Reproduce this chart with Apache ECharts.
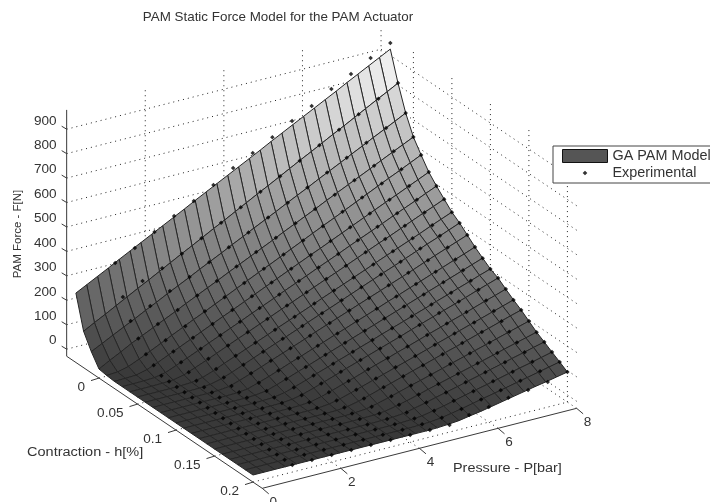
<!DOCTYPE html>
<html><head><meta charset="utf-8">
<style>html,body{margin:0;padding:0;background:#fff}#c{width:710px;height:502px}</style>
<script src="https://cdn.jsdelivr.net/npm/echarts@6/dist/echarts.min.js"></script>
</head><body><div id="c"></div>
<script>
const contraction=[-0.03,-0.02,-0.01,0,0.01,0.02,0.03,0.04,0.05,0.06,0.07,0.08,0.09,0.10,0.11,0.12,0.13,0.14,0.15,0.16,0.17,0.18,0.19,0.20];
const pressureModelStep=8/29;
const pressureDots=[1,1.5,2,2.5,3,3.5,4,4.5,5,5.5,6,6.5,7,7.5,8];
const modelForce=[
[255,278,301,324,348,371,394,417,440,463,486,510,533,556,579,602,625,648,672,695,718,741,764,787,810,834,857,880,903,926],
[120,144,167,191,215,239,262,286,310,334,357,381,405,428,452,476,500,523,547,571,595,618,642,666,689,713,737,761,784,808],
[58,80,103,125,147,170,192,215,237,259,282,304,326,349,371,394,416,438,461,483,505,528,550,572,595,617,640,662,684,707],
[8,32,55,79,100,121,142,163,185,206,227,248,270,291,312,333,354,376,397,418,439,461,482,503,524,545,567,588,609,630],
[3,6,17,36,57,78,99,120,141,161,182,203,224,245,266,286,307,328,349,370,391,411,432,453,474,495,516,536,557,578],
[0,1,3,14,32,52,72,92,112,132,152,171,191,211,231,251,271,291,311,330,350,370,390,410,430,450,469,489,509,529],
[0,0,1,3,12,30,49,68,88,107,126,145,165,184,203,223,242,261,281,300,319,339,358,377,396,416,435,454,474,493],
[0,0,0,1,3,13,30,48,67,86,105,123,142,161,180,198,217,236,255,273,292,311,330,349,367,386,405,424,442,461],
[0,0,0,0,1,3,12,28,47,65,83,101,119,138,156,174,192,211,229,247,265,283,302,320,338,356,374,393,411,429],
[0,0,0,0,0,1,5,16,32,50,68,86,104,121,139,157,175,192,210,228,246,264,282,299,317,335,353,370,388,406],
[0,0,0,0,0,0,1,6,20,36,53,70,87,104,121,139,156,173,190,207,224,241,258,275,292,310,327,344,361,378],
[0,0,0,0,0,0,0,1,6,20,35,52,69,85,102,118,135,151,168,184,201,218,234,251,267,284,300,317,333,350],
[0,0,0,0,0,0,0,0,2,8,22,38,54,70,86,102,118,134,150,166,182,198,214,230,246,262,278,294,310,326],
[0,0,0,0,0,0,0,0,1,3,11,25,40,56,71,87,102,118,133,149,164,179,195,210,226,241,257,272,288,303],
[0,0,0,0,0,0,0,0,0,1,5,15,29,44,59,75,90,105,120,135,150,166,181,196,211,226,241,257,272,287],
[0,0,0,0,0,0,0,0,0,0,1,5,15,29,44,58,73,88,102,117,131,146,161,175,190,204,219,234,248,263],
[0,0,0,0,0,0,0,0,0,0,0,1,6,16,29,43,57,71,85,99,113,127,142,156,170,184,198,212,226,240],
[0,0,0,0,0,0,0,0,0,0,0,0,1,6,16,29,43,56,70,84,97,111,125,138,152,166,179,193,207,220],
[0,0,0,0,0,0,0,0,0,0,0,0,0,2,6,16,28,41,54,66,79,92,105,118,131,144,157,170,183,196],
[0,0,0,0,0,0,0,0,0,0,0,0,0,1,2,6,15,26,38,51,63,75,87,99,111,123,136,148,160,172],
[0,0,0,0,0,0,0,0,0,0,0,0,0,0,1,3,7,17,27,39,50,61,73,84,96,107,119,130,142,153],
[0,0,0,0,0,0,0,0,0,0,0,0,0,0,0,1,3,7,16,25,36,47,58,68,79,90,101,111,122,133],
[0,0,0,0,0,0,0,0,0,0,0,0,0,0,0,0,1,3,8,16,25,35,45,54,64,74,84,94,104,114],
[0,0,0,0,0,0,0,0,0,0,0,0,0,0,0,0,0,1,4,8,16,23,32,41,50,59,68,76,85,94]];
const experimentalForce=[
[337,378,423,468,509,554,603,644,688,734,775,824,865,910,951],
[219,264,296,335,378,421,464,507,550,593,636,679,722,765,808],
[142,183,224,261,301,342,382,423,463,504,545,585,626,666,707],
[92,131,168,207,246,284,323,361,400,438,476,515,553,592,630],
[49,86,123,163,200,238,276,314,351,389,427,465,502,540,578],
[25,61,97,133,169,205,241,277,313,349,385,421,457,493,529],
[3,38,73,108,143,178,213,248,283,318,353,388,423,458,493],
[1,19,53,87,121,155,189,223,257,291,325,359,393,427,461],
[0,5,33,66,99,132,165,198,231,264,297,330,363,396,429],
[0,0,19,51,84,116,148,180,213,245,277,309,342,374,406],
[0,0,6,37,68,99,130,161,192,223,254,285,316,347,378],
[0,0,1,20,50,80,110,140,170,200,230,260,290,320,350],
[0,0,0,7,36,65,94,123,152,181,210,239,268,297,326],
[0,0,0,2,23,51,79,107,135,163,191,219,247,275,303],
[0,0,0,1,12,40,67,95,122,150,177,205,232,260,287],
[0,0,0,0,5,25,51,78,104,131,157,184,210,237,263],
[0,0,0,0,2,13,36,62,87,113,138,164,189,215,240],
[0,0,0,0,1,5,22,47,72,96,121,146,171,195,220],
[0,0,0,0,0,2,9,32,55,79,102,126,149,173,196],
[0,0,0,0,0,1,3,18,40,62,84,106,128,150,172],
[0,0,0,0,0,0,2,8,28,49,70,91,111,132,153],
[0,0,0,0,0,0,1,4,16,36,55,75,94,114,133],
[0,0,0,0,0,0,0,2,8,24,42,60,78,96,114],
[0,0,0,0,0,0,0,0,0,20,33,50,61,74,94]];
const forceTicks=[0,100,200,300,400,500,600,700,800,900];
const contractionTicks=[0,0.05,0.1,0.15,0.2];
const pressureTicks=[0,2,4,6,8];
const titleText='PAM Static Force Model for the PAM Actuator';
const forceName='PAM Force - F[N]', contractionName='Contraction - h[%]', pressureName='Pressure - P[bar]';
const modelName='GA PAM Model', dotsName='Experimental';

const FONT='"Liberation Sans", Arial, sans-serif';
const hLo=-0.042,hHi=0.212,pLo=0,pHi=8,zLo=-29,zHi=979;
const project=(h,p,z)=>[99+770*h+39.3*p, 371+520*h-10*p-0.2444*z];
const pAt=j=>j*pressureModelStep;
const grayOf=z=>{const v=Math.round(Math.min(240,57+190*Math.max(0,z)/900));return `rgb(${v},${v},${v})`;};

const faces=[];
for(let i=0;i<contraction.length-1;i++)for(let j=modelForce[0].length-2;j>=0;j--)faces.push([i,j]);
const dots=[];
experimentalForce.forEach((row,i)=>row.forEach((z,k)=>dots.push(project(contraction[i],pressureDots[k],z))));

const dotted=[];
forceTicks.forEach(z=>{dotted.push([hLo,pLo,z,hLo,pHi,z]);dotted.push([hLo,pHi,z,hHi,pHi,z]);});
pressureTicks.filter(p=>p>0).forEach(p=>{dotted.push([hLo,p,zLo,hLo,p,zHi]);dotted.push([hLo,p,zLo,hHi,p,zLo]);});
contractionTicks.forEach(h=>{dotted.push([h,pHi,zLo,h,pHi,zHi]);dotted.push([h,pLo,zLo,h,pHi,zLo]);});

const solid=[[hLo,pLo,zLo,hLo,pLo,zHi],[hLo,pLo,zLo,hHi,pLo,zLo],[hHi,pLo,zLo,hHi,pHi,zLo]];

function seg3(params,api){
  const d=dotted[params.dataIndex];
  const a=api.coord(project(d[0],d[1],d[2])),b=api.coord(project(d[3],d[4],d[5]));
  return {type:'line',shape:{x1:a[0],y1:a[1],x2:b[0],y2:b[1]},style:{stroke:'#222',lineWidth:1,lineDash:[1,4],fill:null}};
}
function axisItem(params,api){
  const d=solid[params.dataIndex];
  const a=api.coord(project(d[0],d[1],d[2])),b=api.coord(project(d[3],d[4],d[5]));
  return {type:'line',shape:{x1:a[0],y1:a[1],x2:b[0],y2:b[1]},style:{stroke:'#3a3a3a',lineWidth:1,fill:null}};
}
const tickItems=[];
forceTicks.forEach(z=>tickItems.push({at:[hLo,pLo,z],d:[-5,-3],t:[-10,-8],align:'right',label:String(z)}));
contractionTicks.forEach(h=>tickItems.push({at:[h,pLo,zLo],d:[-8,2.5],t:[-14,10],align:'right',label:String(h)}));
pressureTicks.forEach(p=>tickItems.push({at:[hHi,p,zLo],d:[6.5,5.5],t:[11,14],align:'center',label:String(p)}));
function tickRender(params,api){
  const k=tickItems[params.dataIndex];
  const a=api.coord(project(k.at[0],k.at[1],k.at[2]));
  return {type:'group',children:[
    {type:'line',shape:{x1:a[0],y1:a[1],x2:a[0]+k.d[0],y2:a[1]+k.d[1]},style:{stroke:'#3a3a3a',lineWidth:1,fill:null}},
    {type:'text',x:a[0]+k.t[0],y:a[1]+k.t[1],scaleX:1.13,style:{x:0,y:0,text:k.label,textAlign:k.align,textVerticalAlign:'middle',fill:'#333',font:'12px '+FONT}}
  ]};
}
function faceRender(params,api){
  const [i,j]=faces[params.dataIndex];
  const h0=contraction[i],h1=contraction[i+1],p0=pAt(j),p1=pAt(j+1);
  const z00=modelForce[i][j],z01=modelForce[i][j+1],z10=modelForce[i+1][j],z11=modelForce[i+1][j+1];
  const pts=[project(h0,p0,z00),project(h0,p1,z01),project(h1,p1,z11),project(h1,p0,z10)].map(q=>api.coord(q));
  return {type:'polygon',shape:{points:pts},style:{fill:grayOf((z00+z01+z10+z11)/4),stroke:'#262626',lineWidth:1}};
}
const keyOf=a=>a.map((_,i)=>[i,i]);
const silentCustom=(renderItem,data,z)=>({type:'custom',silent:true,coordinateSystem:'cartesian2d',renderItem,data,z,clip:false,animation:false});

const chart=echarts.init(document.getElementById('c'),null,{renderer:'canvas',width:710,height:502});
chart.setOption({
  animation:false,
  backgroundColor:'#fff',
  title:{text:titleText,left:278,top:11,padding:0,textAlign:'center',textStyle:{fontFamily:FONT,fontSize:13.4,fontWeight:'normal',color:'#333'}},
  grid:{left:0,right:0,top:0,bottom:0},
  xAxis:{type:'value',min:0,max:710,show:false},
  yAxis:{type:'value',min:0,max:502,inverse:true,show:false},
  legend:{
    left:553,top:146,orient:'vertical',padding:[3,60,3,9],itemGap:3,itemWidth:45,itemHeight:13,
    borderColor:'#444',borderWidth:1,backgroundColor:'#fff',selectedMode:false,z:20,
    textStyle:{fontFamily:FONT,fontSize:14.4,color:'#333'},
    data:[
      {name:modelName,icon:'rect',itemStyle:{color:'#555',borderColor:'#111',borderWidth:1}},
      {name:dotsName,icon:'path://M0,0h.01v.01zM100,100h.01v.01zM50,32L68,50L50,68L32,50z',itemStyle:{color:'#000',borderWidth:0}}
    ]
  },
  graphic:[
    {type:'text',x:18,y:234,rotation:Math.PI/2,style:{text:forceName,textAlign:'center',textVerticalAlign:'middle',fill:'#333',font:'11.5px '+FONT}},
    {type:'text',x:27,y:453,scaleX:1.21,style:{text:contractionName,textVerticalAlign:'middle',fill:'#333',font:'12px '+FONT}},
    {type:'text',x:453,y:469,scaleX:1.2,style:{text:pressureName,textVerticalAlign:'middle',fill:'#333',font:'12px '+FONT}}
  ],
  series:[
    silentCustom(seg3,keyOf(dotted),1),
    Object.assign(silentCustom(faceRender,keyOf(faces),2),{name:modelName,silent:false,itemStyle:{color:'#555'}}),
    {type:'scatter',name:dotsName,data:dots,symbol:'diamond',symbolSize:4.5,itemStyle:{color:'#000'},z:3,silent:true,animation:false},
    silentCustom(axisItem,keyOf(solid),4),
    silentCustom(tickRender,keyOf(tickItems),5)
  ]
});
</script></body></html>
